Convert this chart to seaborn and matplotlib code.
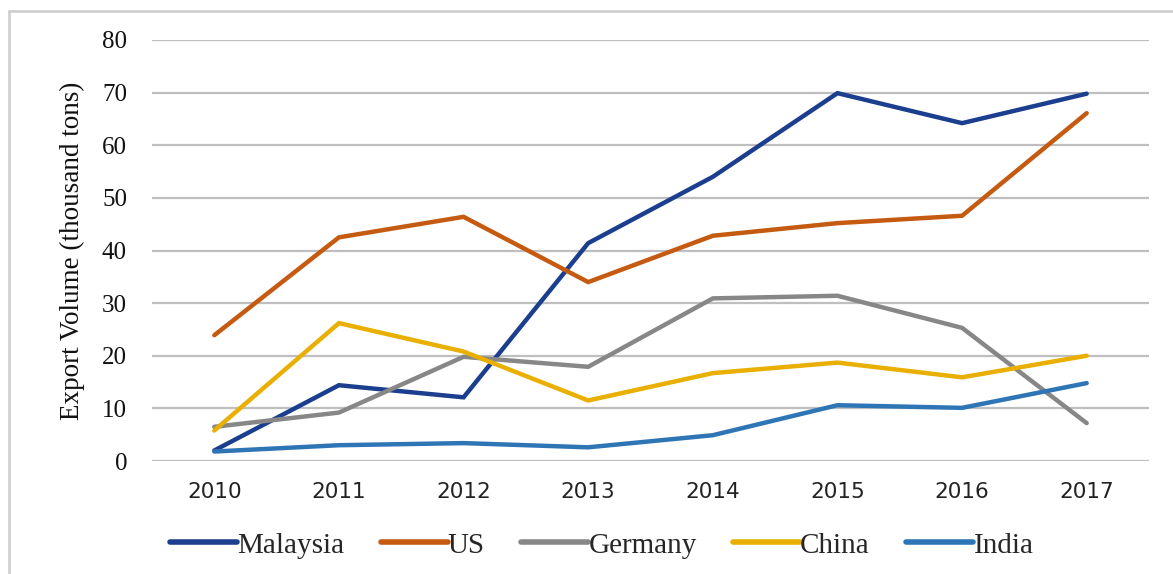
import matplotlib
matplotlib.use("Agg")
import matplotlib.pyplot as plt
import seaborn as sns
import pandas as pd
from matplotlib.lines import Line2D

years = ["2010", "2011", "2012", "2013", "2014", "2015", "2016", "2017"]
malaysia = [2.0, 14.4, 12.1, 41.4, 54.0, 69.9, 64.2, 69.8]
us = [23.9, 42.5, 46.4, 34.0, 42.8, 45.2, 46.6, 66.1]
germany = [6.5, 9.2, 19.8, 17.9, 30.9, 31.4, 25.3, 7.2]
china = [5.8, 26.2, 20.8, 11.5, 16.7, 18.7, 15.9, 20.0]
india = [1.8, 3.0, 3.4, 2.6, 4.9, 10.6, 10.1, 14.8]

series_names = ["Malaysia", "US", "Germany", "China", "India"]
series_values = [malaysia, us, germany, china, india]
colors = ["#1B3F8E", "#C55A11", "#878787", "#E9AF02", "#2E75B6"]

rows = []
for name, vals in zip(series_names, series_values):
    for i, v in enumerate(vals):
        rows.append({"year": i, "value": v, "country": name})
df = pd.DataFrame(rows)

sns.set_theme(style="white")
plt.rcParams["font.family"] = ["Liberation Serif", "DejaVu Serif"]

fig = plt.figure(figsize=(11.73, 5.74), dpi=100)
ax = fig.add_axes([152 / 1173, 1 - 461 / 574, (1149 - 152) / 1173, (461 - 40) / 574])

sns.lineplot(data=df, x="year", y="value", hue="country", hue_order=series_names,
             palette=colors, linewidth=3.2, ax=ax, legend=False, zorder=3)
for ln in ax.lines:
    ln.set_solid_capstyle("round")
    ln.set_solid_joinstyle("miter")

ax.set_xlim(-0.5, 7.5)
ax.set_ylim(0, 80)
ax.set_yticks(range(0, 81, 10))
ax.set_xticks(range(len(years)))
ax.set_xticklabels(years, fontfamily="DejaVu Sans", fontsize=15.5, color="#222222")
ax.tick_params(axis="y", labelsize=18, pad=18, length=0, labelcolor="#111111")
ax.tick_params(axis="x", pad=15, length=0)
ax.yaxis.grid(True, color="#BFBFBF", linewidth=1.6, zorder=0)
ax.xaxis.grid(False)
for s in ax.spines.values():
    s.set_visible(False)
ax.set_xlabel("")
ax.set_ylabel("Export Volume (thousand tons)", fontsize=19.5, color="#111111", labelpad=12)

handles = [Line2D([0], [0], color=c, linewidth=4, solid_capstyle="round") for c in colors]
fig.legend(handles, series_names, loc="center", bbox_to_anchor=(0.513, 0.05), ncol=5,
           frameon=False, fontsize=21, handlelength=2.3, handletextpad=0.0,
           columnspacing=1.25)

# light outer border (top and left)
fig.add_artist(Line2D([9 / 1173, 1], [1 - 11 / 574, 1 - 11 / 574], transform=fig.transFigure,
                      color="#D0D0D0", linewidth=2))
fig.add_artist(Line2D([9 / 1173, 9 / 1173], [0, 1 - 11 / 574], transform=fig.transFigure,
                      color="#D0D0D0", linewidth=2))

fig.savefig("out.png", dpi=100)
